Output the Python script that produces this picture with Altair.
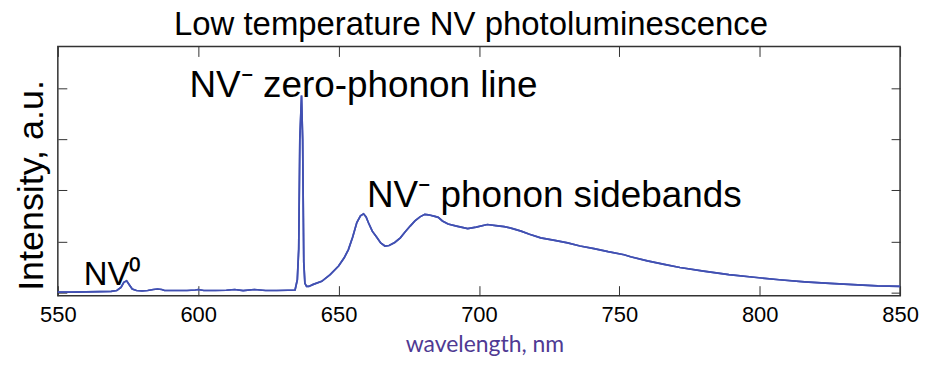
import altair as alt
import pandas as pd

# Spectrum (wavelength in nm, intensity in a.u.)
wavelength = [550, 555, 560, 565, 569, 571, 572.5, 573.5, 574.5, 575.5, 576.5, 578, 580, 582, 584,
              585.5, 587, 588, 590, 593, 596, 599, 600, 602, 606, 610, 613, 616, 620, 624, 628,
              632, 634.5, 635.3, 635.8, 636.2, 636.8, 637.2, 637.6, 638.0, 638.6, 639.4, 641, 644,
              647, 650, 652, 653.5, 655, 656.5, 657.8, 658.9, 659.8, 660.6, 662, 663.6, 665, 666.5,
              668, 670, 672, 673.6, 675.5, 677.2, 679, 680.7, 682, 684.3, 685.5, 687, 689, 692, 696,
              699, 703, 706, 709, 712, 715, 718, 722, 727, 731.6, 736, 741, 746, 751.7, 754, 760,
              766, 771.6, 780, 789, 798, 807, 816, 825, 835, 842, 850]
intensity = [0.01, 0.01, 0.015, 0.02, 0.025, 0.04, 0.10, 0.20, 0.23, 0.15, 0.07, 0.04, 0.035, 0.04, 0.06,
             0.07, 0.06, 0.04, 0.04, 0.04, 0.04, 0.05, 0.06, 0.04, 0.04, 0.045, 0.06, 0.04, 0.06, 0.04, 0.04,
             0.045, 0.05, 0.25, 0.85, 3.0, 3.85, 3.0, 0.6, 0.18, 0.12, 0.12, 0.16, 0.22,
             0.35, 0.52, 0.68, 0.84, 1.08, 1.37, 1.50, 1.54, 1.48, 1.37, 1.20, 1.08, 0.97, 0.91,
             0.92, 0.98, 1.07, 1.18, 1.30, 1.40, 1.48, 1.53, 1.52, 1.49, 1.47, 1.40, 1.34, 1.30, 1.25,
             1.28, 1.33, 1.31, 1.29, 1.25, 1.20, 1.14, 1.07, 1.02, 0.97, 0.91, 0.86, 0.80, 0.74, 0.70, 0.62,
             0.55, 0.49, 0.42, 0.35, 0.30, 0.25, 0.21, 0.18, 0.15, 0.13, 0.12]

# Annotations (data coordinates)
ann_text = ["NV\u207b zero-phonon line", "NV\u207b phonon sidebands", "NV\u2070"]
ann_x = [596.9, 660.1, 559.2]
ann_y = [3.82, 1.68, 0.156]
ann_size = [37, 37, 33]

x_ticks = [550, 600, 650, 700, 750, 800, 850]
y_ticks = [0, 1, 2, 3, 4]
x_domain = [550, 850]
y_domain = [-0.06, 4.81]

spec = pd.DataFrame({"wavelength": wavelength, "intensity": intensity})
ann = pd.DataFrame({"label": ann_text, "x": ann_x, "y": ann_y, "size": ann_size})

LINE_COLOR = "#4150b2"
FRAME = "#333333"

x_bottom = alt.X(
    "wavelength:Q",
    scale=alt.Scale(domain=x_domain, nice=False, zero=False),
    axis=alt.Axis(
        orient="bottom", values=x_ticks, tickSize=10, offset=-10, domain=False,
        tickColor=FRAME, tickWidth=1, grid=False,
        labelFont="Liberation Sans", labelFontSize=22, labelColor="black",
        labelPadding=9, labelFlush=False,
        title="wavelength, nm", titleFont="Lato", titleFontSize=23,
        titleFontWeight="normal", titleColor="#4f3a93",
        titleX=428, titleY=66, titleBaseline="alphabetic", titleAlign="center",
    ),
)
y_left = alt.Y(
    "intensity:Q",
    scale=alt.Scale(domain=y_domain, nice=False, zero=False),
    axis=alt.Axis(
        orient="left", values=y_ticks, tickSize=9, offset=-9, domain=False,
        tickColor=FRAME, tickWidth=1, grid=False, labels=False,
        title="Intensity, a.u.", titleFont="Liberation Sans", titleFontSize=36,
        titleFontWeight="normal", titleColor="black", titleAngle=270,
        titleX=-24, titleY=139, titleBaseline="alphabetic", titleAlign="center",
    ),
)

line = alt.Chart(spec).mark_line(color=LINE_COLOR, strokeWidth=1.7).encode(x=x_bottom, y=y_left)

ghost = alt.Chart(spec).mark_line(color=LINE_COLOR, strokeWidth=1.7).encode(
    x=alt.X("wavelength:Q", scale=alt.Scale(domain=x_domain, nice=False, zero=False),
            axis=alt.Axis(orient="top", values=x_ticks, tickSize=10, offset=-10, domain=False,
                          labels=False, tickColor=FRAME, grid=False, title=None)),
    y=alt.Y("intensity:Q", scale=alt.Scale(domain=y_domain, nice=False, zero=False),
            axis=alt.Axis(orient="right", values=y_ticks, tickSize=9, offset=-9, domain=False,
                          labels=False, tickColor=FRAME, grid=False, title=None)),
)

text = alt.Chart(ann).mark_text(
    align="left", baseline="alphabetic", font="Liberation Sans", color="black"
).encode(
    x=alt.X("x:Q", scale=alt.Scale(domain=x_domain, nice=False, zero=False), axis=None),
    y=alt.Y("y:Q", scale=alt.Scale(domain=y_domain, nice=False, zero=False), axis=None),
    text="label:N",
    size=alt.Size("size:Q", scale=None, legend=None),
)

chart = alt.layer(line, ghost, text).resolve_scale(
    x="independent", y="independent"
).properties(
    width=845, height=250,
    padding={"left": 50, "top": 38, "right": 20, "bottom": 70},
    autosize=alt.AutoSizeParams(type="none"),
    background="white",
    title=alt.TitleParams(
        text="Low temperature NV photoluminescence", font="Liberation Sans", fontSize=33,
        fontWeight="normal", color="black", anchor="middle", baseline="alphabetic",
        offset=-22, dx=-8, frame="group",
    ),
).configure_view(stroke=FRAME, strokeWidth=1.5)

chart.save("out.html", embed_options={"renderer": "svg", "actions": False})
